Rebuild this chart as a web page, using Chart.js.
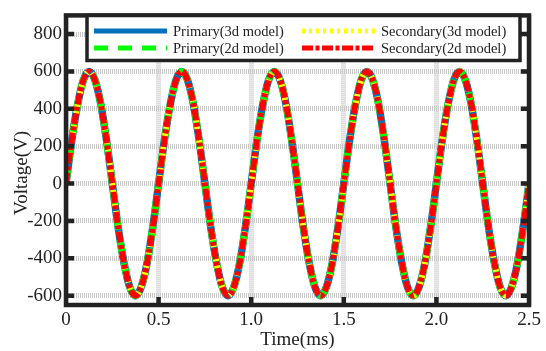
<!DOCTYPE html>
<html>
<head>
<meta charset="utf-8">
<script src="https://cdn.jsdelivr.net/npm/chart.js@4/dist/chart.umd.min.js"></script>
<style>
  html, body { margin: 0; padding: 0; background: #fff; }
  #caixa { width: 546px; height: 351px; }
</style>
</head>
<body>
<div id="caixa"><canvas id="grafico"></canvas></div>
<script>
// tempo em ms
const tempo = [
  0.000, 0.031, 0.063, 0.094, 0.125, 0.156, 0.188, 0.219, 0.250, 0.281, 0.313, 0.344, 0.375, 0.406, 0.438, 0.469,
  0.500, 0.531, 0.563, 0.594, 0.625, 0.656, 0.688, 0.719, 0.750, 0.781, 0.813, 0.844, 0.875, 0.906, 0.938, 0.969,
  1.000, 1.031, 1.063, 1.094, 1.125, 1.156, 1.188, 1.219, 1.250, 1.281, 1.313, 1.344, 1.375, 1.406, 1.438, 1.469,
  1.500, 1.531, 1.563, 1.594, 1.625, 1.656, 1.688, 1.719, 1.750, 1.781, 1.813, 1.844, 1.875, 1.906, 1.938, 1.969,
  2.000, 2.031, 2.063, 2.094, 2.125, 2.156, 2.188, 2.219, 2.250, 2.281, 2.313, 2.344, 2.375, 2.406, 2.438, 2.469,
  2.500
];

// tensões (V)
const primario3d = [
  0, 230, 424, 554, 600, 554, 424, 230, 0, -230, -424, -554, -600, -554, -424, -230,
  0, 230, 424, 554, 600, 554, 424, 230, 0, -230, -424, -554, -600, -554, -424, -230,
  0, 230, 424, 554, 600, 554, 424, 230, 0, -230, -424, -554, -600, -554, -424, -230,
  0, 230, 424, 554, 600, 554, 424, 230, 0, -230, -424, -554, -600, -554, -424, -230,
  0, 230, 424, 554, 600, 554, 424, 230, 0, -230, -424, -554, -600, -554, -424, -230,
  0
];
const secundario3d = [
  0, 230, 424, 554, 600, 554, 424, 230, 0, -230, -424, -554, -600, -554, -424, -230,
  0, 230, 424, 554, 600, 554, 424, 230, 0, -230, -424, -554, -600, -554, -424, -230,
  0, 230, 424, 554, 600, 554, 424, 230, 0, -230, -424, -554, -600, -554, -424, -230,
  0, 230, 424, 554, 600, 554, 424, 230, 0, -230, -424, -554, -600, -554, -424, -230,
  0, 230, 424, 554, 600, 554, 424, 230, 0, -230, -424, -554, -600, -554, -424, -230,
  0
];
const primario2d = [
  0, 230, 424, 554, 600, 554, 424, 230, 0, -230, -424, -554, -600, -554, -424, -230,
  0, 230, 424, 554, 600, 554, 424, 230, 0, -230, -424, -554, -600, -554, -424, -230,
  0, 230, 424, 554, 600, 554, 424, 230, 0, -230, -424, -554, -600, -554, -424, -230,
  0, 230, 424, 554, 600, 554, 424, 230, 0, -230, -424, -554, -600, -554, -424, -230,
  0, 230, 424, 554, 600, 554, 424, 230, 0, -230, -424, -554, -600, -554, -424, -230,
  0
];
const secundario2d = [
  0, 230, 424, 554, 600, 554, 424, 230, 0, -230, -424, -554, -600, -554, -424, -230,
  0, 230, 424, 554, 600, 554, 424, 230, 0, -230, -424, -554, -600, -554, -424, -230,
  0, 230, 424, 554, 600, 554, 424, 230, 0, -230, -424, -554, -600, -554, -424, -230,
  0, 230, 424, 554, 600, 554, 424, 230, 0, -230, -424, -554, -600, -554, -424, -230,
  0, 230, 424, 554, 600, 554, 424, 230, 0, -230, -424, -554, -600, -554, -424, -230,
  0
];

const ticksY = [-600, -400, -200, 0, 200, 400, 600, 800];
const ticksX = [0, 0.5, 1, 1.5, 2, 2.5];

const fonte = '"Liberation Serif", "Times New Roman", serif';
const escuro = '#222';

function pontos(v) {
  return tempo.map((t, i) => ({ x: t, y: v[i] }));
}

// ordem de desenho: vermelho por cima
const series = [
  { label: 'Primary(3d model)',   data: pontos(primario3d),   borderColor: '#0072bd', borderWidth: 7.5, borderDash: [],                 order: 4 },
  { label: 'Primary(2d model)',   data: pontos(primario2d),   borderColor: '#00ff00', borderWidth: 7,   borderDash: [14, 10],           order: 3 },
  { label: 'Secondary(3d model)', data: pontos(secundario3d), borderColor: '#ffff00', borderWidth: 6,   borderDash: [3, 4],             order: 2 },
  { label: 'Secondary(2d model)', data: pontos(secundario2d), borderColor: '#ff0000', borderWidth: 6,   borderDash: [11, 2.5, 4, 2.5],  order: 1 }
];

// moldura, ticks internos, titulo do eixo y e legenda
const moldura = {
  id: 'moldura',
  afterDraw(chart) {
    const { ctx, chartArea: a, scales: { x, y } } = chart;
    ctx.save();
    ctx.strokeStyle = escuro;
    ctx.lineWidth = 4.5;
    ctx.strokeRect(a.left, a.top, a.right - a.left, a.bottom - a.top);

    ctx.lineWidth = 4.5;
    ctx.beginPath();
    ticksY.forEach(v => {
      const py = y.getPixelForValue(v);
      ctx.moveTo(a.left, py); ctx.lineTo(a.left + 8, py);
      ctx.moveTo(a.right, py); ctx.lineTo(a.right - 8, py);
    });
    ticksX.slice(1, -1).forEach(v => {
      const px = x.getPixelForValue(v);
      ctx.moveTo(px, a.bottom); ctx.lineTo(px, a.bottom - 8);
      ctx.moveTo(px, a.top); ctx.lineTo(px, a.top + 8);
    });
    ctx.stroke();

    ctx.fillStyle = escuro;
    ctx.font = '19px ' + fonte;
    ctx.textAlign = 'center';
    ctx.textBaseline = 'middle';
    ctx.translate(22, 173);
    ctx.rotate(-Math.PI / 2);
    ctx.fillText('Voltage(V)', 0, 0);
    ctx.restore();

    // legenda
    ctx.save();
    ctx.fillStyle = '#fff';
    ctx.fillRect(87, 15.5, 433, 45);
    ctx.strokeStyle = escuro;
    ctx.lineWidth = 3.5;
    ctx.strokeRect(87, 15.5, 433, 45);
    const itens = [
      { ds: series[0], lx: 94,  ty: 31 },
      { ds: series[2], lx: 302, ty: 31 },
      { ds: series[1], lx: 94,  ty: 48 },
      { ds: series[3], lx: 302, ty: 48 }
    ];
    ctx.font = '14.5px ' + fonte;
    ctx.textAlign = 'left';
    ctx.textBaseline = 'middle';
    itens.forEach(it => {
      ctx.strokeStyle = it.ds.borderColor;
      ctx.lineWidth = 5;
      ctx.setLineDash(it.ds.borderDash);
      ctx.beginPath();
      ctx.moveTo(it.lx, it.ty);
      ctx.lineTo(it.lx + 73, it.ty);
      ctx.stroke();
      ctx.setLineDash([]);
      ctx.fillStyle = escuro;
      ctx.fillText(it.ds.label, it.lx + 79, it.ty + 1);
    });
    ctx.restore();
  }
};

new Chart(document.getElementById('grafico').getContext('2d'), {
  type: 'line',
  data: {
    datasets: series.map(s => Object.assign({
      pointRadius: 0,
      fill: false,
      cubicInterpolationMode: 'monotone'
    }, s))
  },
  options: {
    responsive: true,
    maintainAspectRatio: false,
    animation: false,
    layout: { padding: { left: 0, right: 17, top: 11, bottom: 0 } },
    plugins: {
      legend: { display: false },
      tooltip: { enabled: false }
    },
    scales: {
      x: {
        type: 'linear',
        min: 0,
        max: 2.5,
        afterBuildTicks: s => { s.ticks = ticksX.map(v => ({ value: v })); },
        afterFit: s => { s.height = 46; },
        grid: { color: '#c9c9c9', lineWidth: 5, drawTicks: false },
        border: { display: false, dash: [1, 1] },
        ticks: { color: escuro, font: { family: fonte, size: 19 }, padding: 4, maxRotation: 0 },
        title: { display: true, text: 'Time(ms)', color: escuro, font: { family: fonte, size: 19 }, padding: { top: 0, bottom: 0 } }
      },
      y: {
        min: -650,
        max: 900,
        afterBuildTicks: s => { s.ticks = ticksY.map(v => ({ value: v })); },
        afterFit: s => { s.width = 66; },
        grid: { color: '#c9c9c9', lineWidth: 5, drawTicks: false },
        border: { display: false, dash: [1, 1] },
        ticks: { color: escuro, font: { family: fonte, size: 19 }, padding: 4 }
      }
    }
  },
  plugins: [moldura]
});
</script>
</body>
</html>
